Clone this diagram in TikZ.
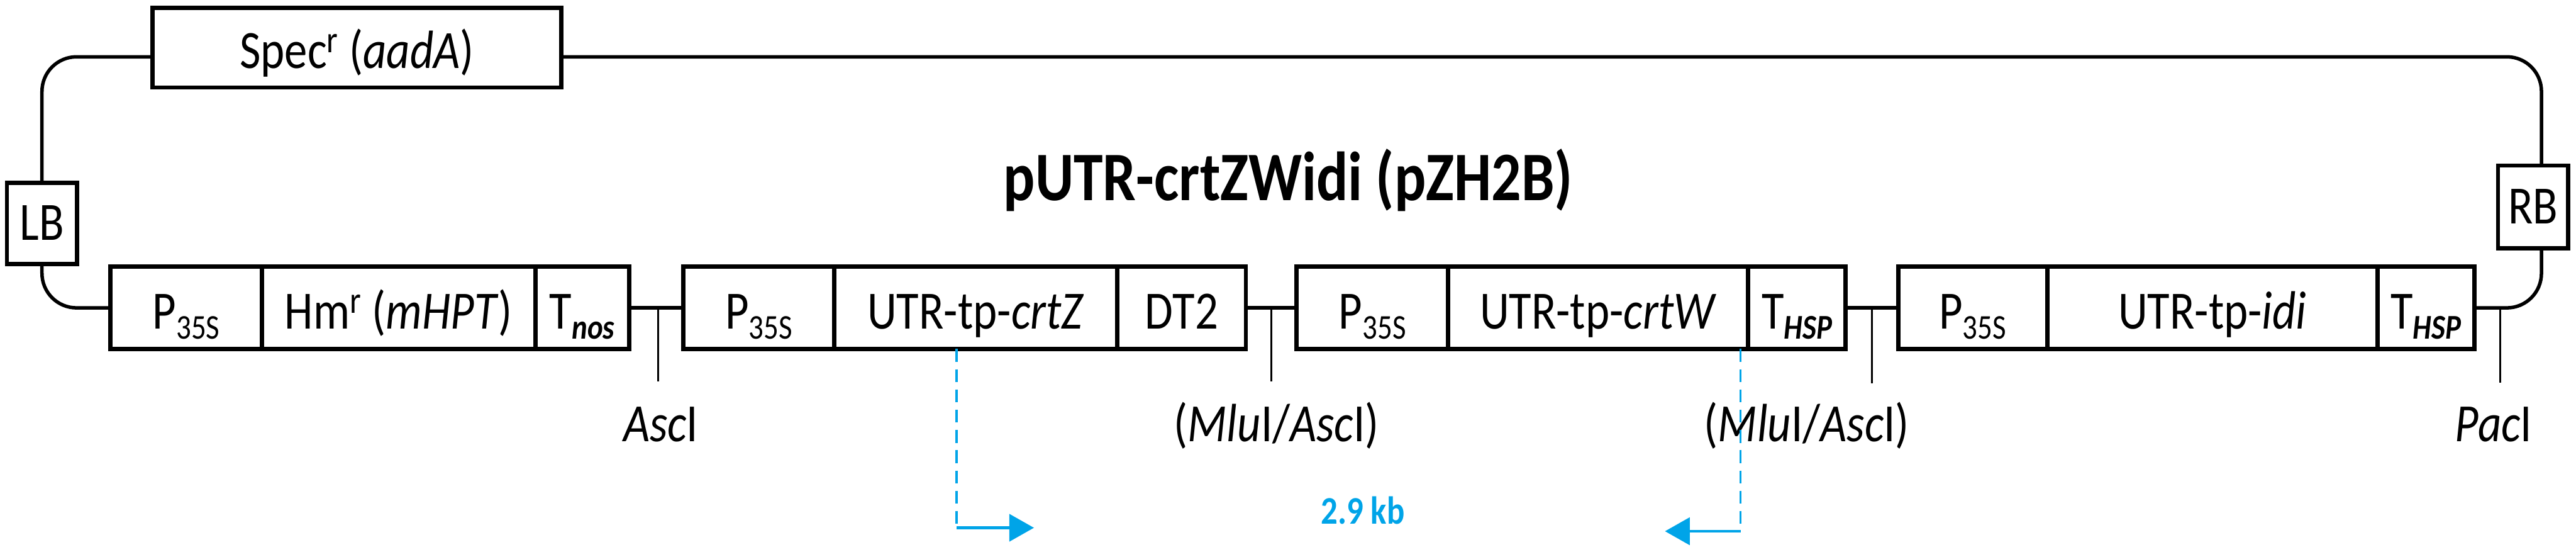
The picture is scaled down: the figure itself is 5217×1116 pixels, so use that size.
\documentclass[tikz,border=0pt]{standalone}
\usepackage{fontspec}
\setmainfont{Carlito}[FakeStretch=0.85]
\usetikzlibrary{arrows.meta}
\definecolor{kbblue}{RGB}{0,164,232}
\newcommand\labfont{\fontsize{31pt}{36pt}\selectfont}
\newcommand\titlefont{\fontsize{40pt}{46pt}\selectfont\bfseries}
\newcommand\kbfont{\fontsize{22.5pt}{26pt}\selectfont\bfseries}
\newcommand\lsub[1]{\raisebox{-0.19em}{\fontsize{20pt}{20pt}\selectfont #1}}
\begin{document}
\begin{tikzpicture}[x=0.01cm,y=-0.01cm,
  seg/.style={draw, line width=2.5pt, minimum height=1.66cm, inner sep=0pt, outer sep=0pt, anchor=west, font=\labfont, text height=0.84cm, text depth=0cm},
  bnd/.style={draw, line width=2.5pt, inner sep=0pt, outer sep=0pt, font=\labfont, text height=0.68cm, text depth=0cm},
  bb/.style={line width=2pt},
  tick/.style={line width=1pt},
  site/.style={font=\labfont, anchor=base},
  pcr/.style={kbblue, line width=1.3pt, dash pattern=on 0.26cm off 0.15cm},
  pcrarr/.style={kbblue, line width=1.6pt, -{Triangle[length=0.5cm,width=0.55cm]}},
]
\useasboundingbox (0,0) rectangle (5217,1116);

\node[seg, anchor=center, minimum width=8.28cm, minimum height=1.61cm] (spec) at (723,96.5) {Spec\textsuperscript{r} (\textit{aadA})};
\node[bnd, minimum width=1.42cm, minimum height=1.64cm] (lb) at (85,452) {LB};
\node[bnd, minimum width=1.42cm, minimum height=1.67cm] (rb) at (5130,418.5) {RB};

\node[seg, minimum width=3.06cm] (p1) at (224,623) {P\lsub{35S}};
\node[seg, minimum width=5.54cm] (h1) at (530,623) {Hm\textsuperscript{r} (\textit{mHPT})};
\node[seg, minimum width=1.90cm] (t1) at (1084,623) {T\lsub{\textbf{\textit{nos}}}};
\node[seg, minimum width=3.05cm] (p2) at (1384,623) {P\lsub{35S}};
\node[seg, minimum width=5.74cm] (u2) at (1689,623) {UTR-tp-\textit{crtZ}};
\node[seg, minimum width=2.60cm] (d2) at (2263,623) {DT2};
\node[seg, minimum width=3.07cm] (p3) at (2626,623) {P\lsub{35S}};
\node[seg, minimum width=6.07cm] (u3) at (2933,623) {UTR-tp-\textit{crtW}};
\node[seg, minimum width=1.98cm] (t3) at (3540,623) {T\lsub{\textbf{\textit{HSP}}}};
\node[seg, minimum width=3.02cm] (p4) at (3844,623) {P\lsub{35S}};
\node[seg, minimum width=6.69cm] (u4) at (4146,623) {UTR-tp-\textit{idi}};
\node[seg, minimum width=1.96cm] (t4) at (4815,623) {T\lsub{\textbf{\textit{HSP}}}};

\node[font=\titlefont, anchor=base] (title) at (2609,406) {pUTR-crtZWidi (pZH2B)};

\coordinate (topy) at (0,115);
\coordinate (rx) at (5147,0);
\draw[bb, rounded corners=0.7cm] (spec.west |- topy) -| (lb.north);
\draw[bb, rounded corners=0.7cm] (lb.south) |- (p1.west);
\draw[bb, rounded corners=0.7cm] (spec.east |- topy) -| (rb.north -| rx);
\draw[bb, rounded corners=0.7cm] (rb.south -| rx) |- (t4.east);
\draw[bb] (t1.east) -- (p2.west);
\draw[bb] (d2.east) -- (p3.west);
\draw[bb] (t3.east) -- (p4.west);

\coordinate (s1) at (1333,772);
\coordinate (s2) at (2575,772);
\coordinate (s3) at (3791,776);
\coordinate (s4) at (5063,774);
\draw[tick] (s1 |- t1.east) -- (s1);
\draw[tick] (s2 |- t1.east) -- (s2);
\draw[tick] (s3 |- t1.east) -- (s3);
\draw[tick] (s4 |- t1.east) -- (s4);
\node[site] (l1) at (1338,893) {\textit{Asc}I};
\node[site] (l2) at (2585,893) {(\textit{Mlu}I/\textit{Asc}I)};
\node[site] (l3) at (3659,893) {(\textit{Mlu}I/\textit{Asc}I)};
\node[site] (l4) at (5050,893) {\textit{Pac}I};

\coordinate (c1) at (1937,1068);
\coordinate (e1) at (2094,1068);
\draw[pcr] (u2.south -| c1) -- (c1);
\draw[pcrarr] (c1) -- (e1);
\coordinate (c2) at (3525,1075);
\coordinate (e2) at (3372,1075);
\draw[pcr] (u3.south -| c2) -- (c2);
\draw[pcrarr] (c2) -- (e2);
\node[font=\kbfont, text=kbblue, anchor=base] (kb) at (2760,1060) {2.9 kb};
\end{tikzpicture}
\end{document}
